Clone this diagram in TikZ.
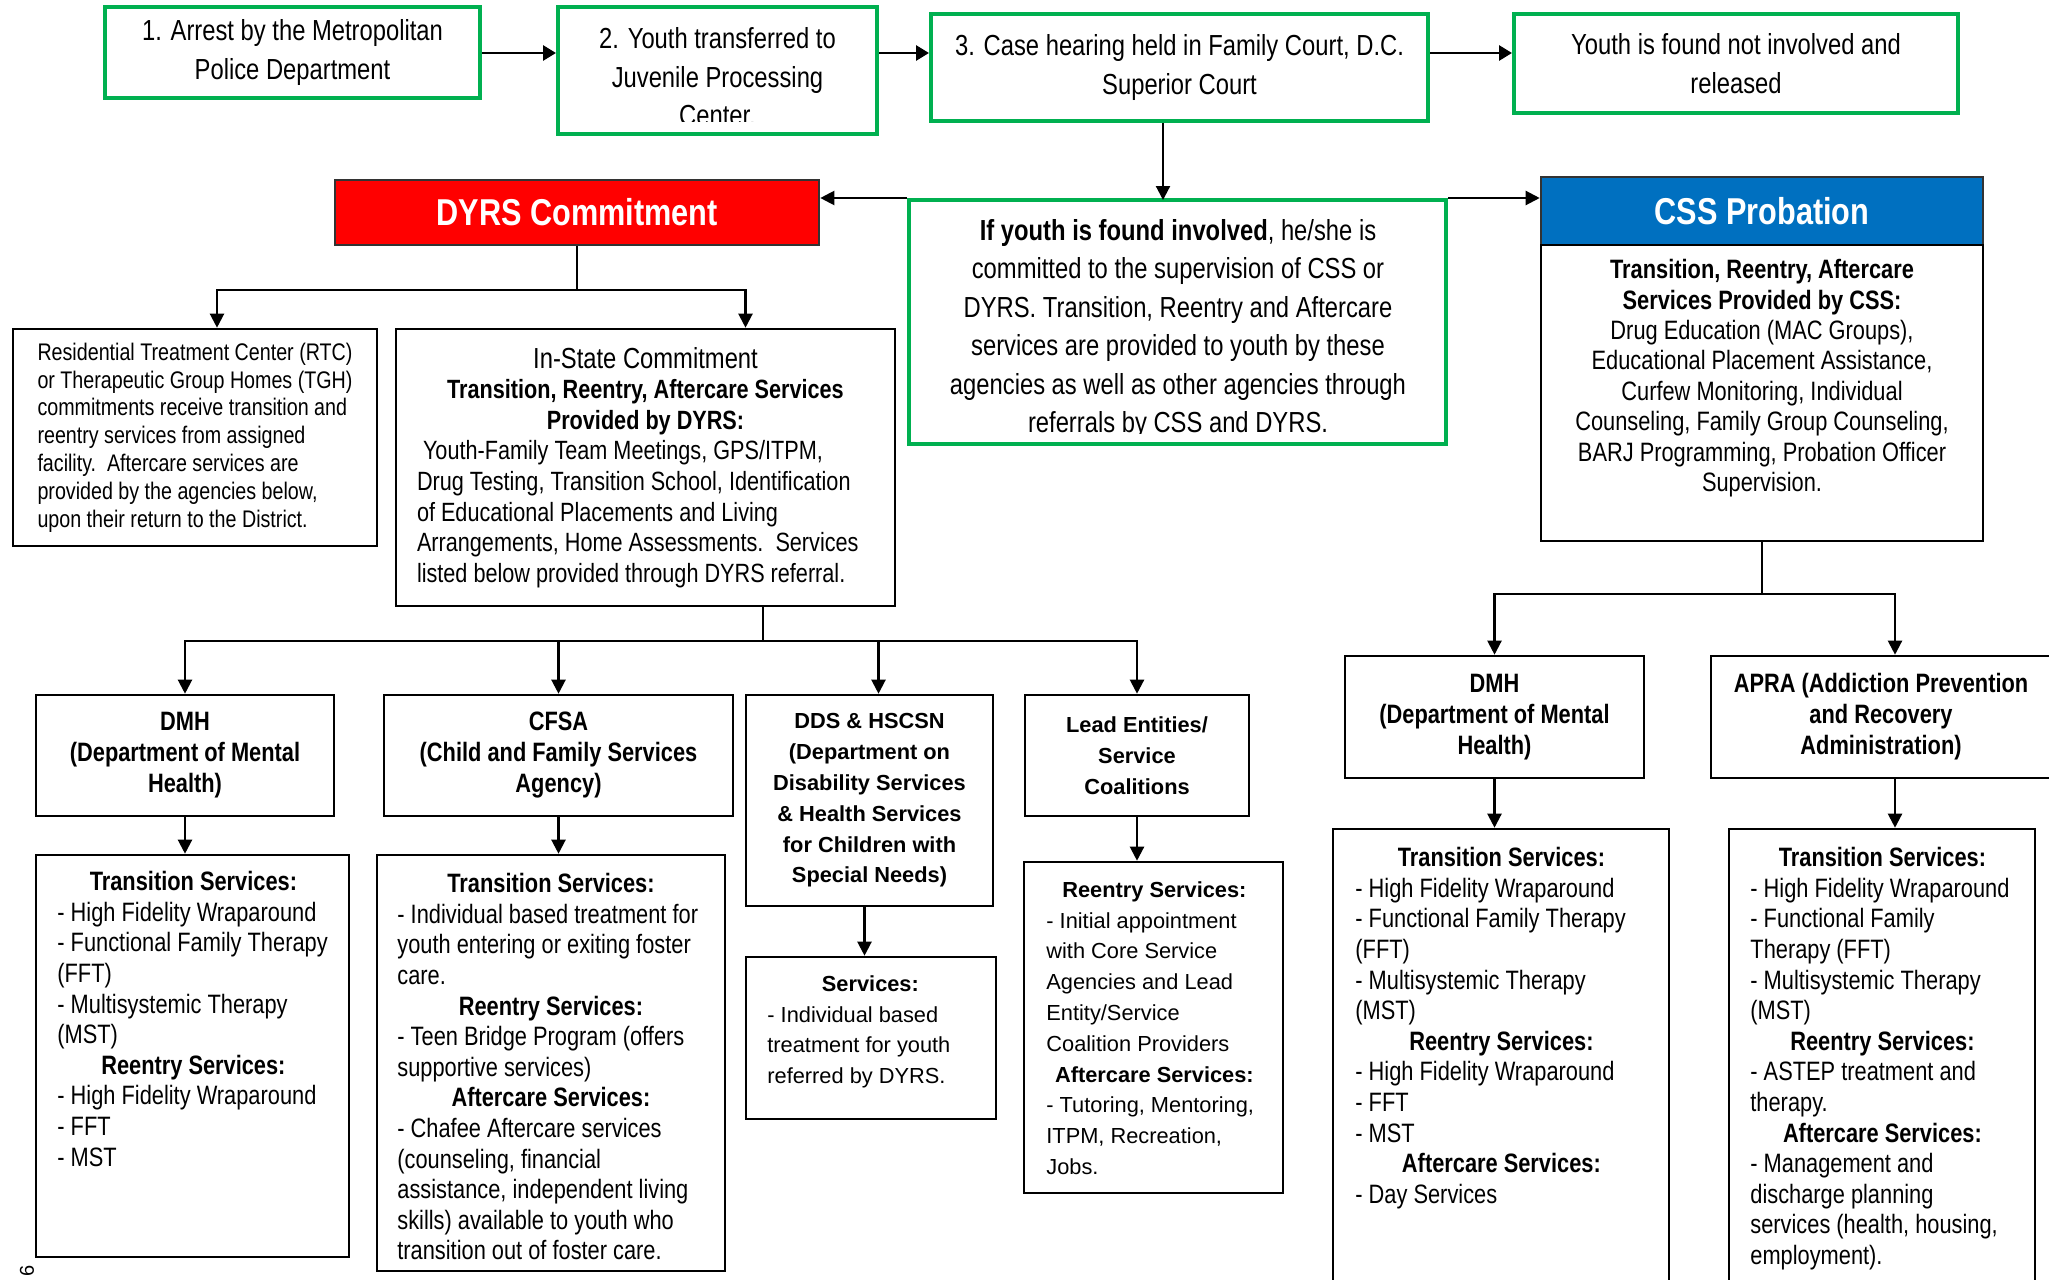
\documentclass[tikz,border=0pt]{standalone}
\usepackage{fontspec}
\setmainfont{Liberation Sans}
\newfontfamily\narrow[FakeStretch=0.82]{Liberation Sans}
\usetikzlibrary{arrows.meta,positioning}

\definecolor{boxgreen}{HTML}{00B050}
\definecolor{dyrsred}{HTML}{FF0000}
\definecolor{cssblue}{HTML}{0070C0}

\setlength{\parindent}{0pt}
\newcommand{\hd}[2]{\makebox[#1][c]{\bfseries #2}}

\tikzset{
    boxsize/.style 2 args={minimum width=#1*0.5pt, minimum height=#2*0.5pt},
    courtbox/.style={draw=boxgreen, line width=2pt, inner sep=0pt, align=center,
        font=\narrow\fontsize{14.5}{19.5}\selectfont},
    courttext/.style={inner sep=0pt, align=center, anchor=north},
    blackbox/.style={draw=black, line width=1.3pt, inner sep=0pt},
    headbox/.style={draw=black!80, line width=1.3pt, inner sep=0pt, text=white,
        font=\narrow\bfseries\fontsize{18.7}{22}\selectfont},
    agency/.style={blackbox, align=center, font=\narrow\bfseries\fontsize{13.3}{15.5}\selectfont},
    agencywide/.style={blackbox, align=center, font=\bfseries\fontsize{10.9}{15.4}\selectfont},
    svctext/.style={inner sep=0pt, align=left, anchor=north west,
        font=\narrow\fontsize{13.3}{15.3}\selectfont},
    svcwide/.style={inner sep=0pt, align=left, anchor=north west,
        font=\fontsize{10.9}{15.4}\selectfont},
    link/.style={line width=1.1pt},
    arr/.style={line width=1.1pt, -{Triangle[length=7pt,width=7pt]}},
    bigarr/.style={line width=1.4pt, -{Triangle[length=6.5pt,width=7.5pt]}},
}

\begin{document}
\begin{tikzpicture}[x=0.5pt, y=-0.5pt]
    \useasboundingbox (0,0) rectangle (2049,1279);

    % Court steps
    \node[courtbox, boxsize={375}{91}] (arrest) at (292.5,53) {1. Arrest by the Metropolitan\\Police Department};
    \node[courtbox, boxsize={319}{127}] (jpc) at (717.5,70.5) {};
    \begin{scope}
        \clip (560,9) rectangle (875,122);
        \node[courttext, font=\narrow\fontsize{14.5}{19.3}\selectfont] (jpctext) at (717.5,27) {2. Youth transferred to\\Juvenile Processing\\Center.};
    \end{scope}
    \node[courtbox, boxsize={497}{107}] (hearing) at (1179.5,67.5) {3. Case hearing held in Family Court, D.C.\\Superior Court};
    \node[courtbox, boxsize={444}{99}] (released) at (1736,63.5) {Youth is found not involved and\\released};

    \draw[bigarr] (arrest.east) -- (jpc.west |- arrest.east);
    \draw[bigarr] (jpc.east |- arrest.east) -- (hearing.west |- arrest.east);
    \draw[bigarr] (hearing.east |- arrest.east) -- (released.west |- arrest.east);

    % Finding
    \node[courtbox, boxsize={537}{244}] (involved) at (1177.5,322) {};
    \begin{scope}
        \clip (912,202) rectangle (1444,433);
        \node[courttext, font=\narrow\fontsize{14.5}{19.2}\selectfont] (involvedtext) at (1178,219) {\textbf{If youth is found involved}, he/she is\\committed to the supervision of CSS or\\DYRS. Transition, Reentry and Aftercare\\services are provided to youth by these\\agencies as well as other agencies through\\referrals by CSS and DYRS.};
    \end{scope}
    \coordinate (verdict) at (1163,200);
    \draw[arr] (hearing.south -| verdict) -- (verdict);

    % Agencies
    \node[headbox, fill=dyrsred, boxsize={484}{65}] (dyrs) at (577,212.5) {DYRS Commitment};
    \node[headbox, fill=cssblue, boxsize={442}{68}] (css) at (1762,211) {CSS Probation};
    \node[blackbox, boxsize={442}{296}] (cssbody) at (1762,393) {};
    \node[courttext, font=\narrow\fontsize{13.3}{15.2}\selectfont] (csstext) at (1762,259) {\textbf{Transition, Reentry, Aftercare}\\\textbf{Services Provided by CSS:}\\Drug Education (MAC Groups),\\Educational Placement Assistance,\\Curfew Monitoring, Individual\\Counseling, Family Group Counseling,\\BARJ Programming, Probation Officer\\Supervision.};

    \draw[arr] (involved.north west) -- (dyrs.east |- involved.north west);
    \draw[arr] (involved.north east) -- (css.west |- involved.north east);

    % DYRS branch
    \node[blackbox, boxsize={364}{217}, align=left, font=\narrow\fontsize{12}{13.9}\selectfont] (rtc) at (195,437.5) {Residential Treatment Center (RTC)\\or Therapeutic Group Homes (TGH)\\commitments receive transition and\\reentry services from assigned\\facility.\ \ Aftercare services are\\provided by the agencies below,\\upon their return to the District.};
    \node[blackbox, boxsize={499}{277}, align=left, font=\narrow\fontsize{13.2}{15.3}\selectfont] (instate) at (645.5,467.5) {\makebox[228.5pt][c]{\fontsize{14.5}{15.3}\selectfont In-State Commitment}\\\hd{228.5pt}{Transition, Reentry, Aftercare Services}\\\hd{228.5pt}{Provided by DYRS:}\\\hspace{3pt}Youth-Family Team Meetings, GPS/ITPM,\\Drug Testing, Transition School, Identification\\of Educational Placements and Living\\Arrangements, Home Assessments.\ \ Services\\listed below provided through DYRS referral.};

    \draw[link] (dyrs.south) -- ++(0,44) coordinate (dyrsfork);
    \draw[arr] (dyrsfork) -| ([xshift=11pt]rtc.north);
    \draw[arr] (dyrsfork) -| ([xshift=50pt]instate.north);

    % DYRS referral agencies
    \node[agency, boxsize={298}{121}] (dmhA) at (185,755.5) {DMH\\(Department of Mental\\Health)};
    \node[agency, boxsize={349}{121}] (cfsa) at (558.5,755.5) {CFSA\\(Child and Family Services\\Agency)};
    \node[agencywide, boxsize={247}{211}] (dds) at (869.5,800.5) {DDS \& HSCSN\\(Department on\\Disability Services\\\& Health Services\\for Children with\\Special Needs)};
    \node[agencywide, boxsize={224}{121}] (lead) at (1137,755.5) {Lead Entities/\\Service\\Coalitions};

    \draw[link] ([xshift=58.75pt]instate.south) -- ++(0,34) coordinate (instfork);
    \draw[arr] (instfork) -| (dmhA.north);
    \draw[arr] (instfork) -| (cfsa.north);
    \draw[arr] (instfork) -| ([xshift=4.5pt]dds.north);
    \draw[arr] (instfork) -| (lead.north);

    \node[blackbox, boxsize={313}{402}] (dmhAsrv) at (192.5,1056) {};
    \node[blackbox, boxsize={348}{416}] (cfsasrv) at (551,1063) {};
    \node[blackbox, boxsize={250}{162}] (ddssrv) at (871,1038) {};
    \node[blackbox, boxsize={259}{331}] (leadsrv) at (1153.5,1027.5) {};

    \node[svctext] (dmhAlist) at (57,871) {\hd{136pt}{Transition Services:}\\- High Fidelity Wraparound\\- Functional Family Therapy\\(FFT)\\- Multisystemic Therapy\\(MST)\\\hd{136pt}{Reentry Services:}\\- High Fidelity Wraparound\\- FFT\\- MST};
    \node[svctext] (cfsalist) at (397,873) {\hd{153.6pt}{Transition Services:}\\- Individual based treatment for\\youth entering or exiting foster\\care.\\\hd{153.6pt}{Reentry Services:}\\- Teen Bridge Program (offers\\supportive services)\\\hd{153.6pt}{Aftercare Services:}\\- Chafee Aftercare services\\(counseling, financial\\assistance, independent living\\skills) available to youth who\\transition out of foster care.};
    \node[svcwide] (ddslist) at (767,975) {\hd{103pt}{Services:}\\- Individual based\\treatment for youth\\referred by DYRS.};
    \node[svcwide] (leadlist) at (1046,881) {\hd{108pt}{Reentry Services:}\\- Initial appointment\\with Core Service\\Agencies and Lead\\Entity/Service\\Coalition Providers\\\hd{108pt}{Aftercare Services:}\\- Tutoring, Mentoring,\\ITPM, Recreation,\\Jobs.};

    \draw[arr] (dmhA.south) -- (dmhA.south |- dmhAsrv.north);
    \draw[arr] (cfsa.south) -- (cfsa.south |- cfsasrv.north);
    \draw[arr] ([xshift=-2.5pt]dds.south) -- ([xshift=-2.5pt]dds.south |- ddssrv.north);
    \draw[arr] (lead.south) -- (lead.south |- leadsrv.north);

    % CSS referral agencies
    \node[agency, boxsize={299}{122}] (dmhB) at (1494.5,717) {DMH\\(Department of Mental\\Health)};
    \node[agency, boxsize={340}{122}] (apra) at (1881,717) {APRA (Addiction Prevention\\and Recovery\\Administration)};

    \draw[link] (cssbody.south) -- ++(0,52) coordinate (cssfork);
    \draw[arr] (cssfork) -| (dmhB.north);
    \draw[arr] (cssfork) -| ([xshift=7pt]apra.north);

    \node[blackbox, boxsize={336}{471}] (dmhBsrv) at (1501,1064.5) {};
    \node[blackbox, boxsize={306}{471}] (aprasrv) at (1882,1064.5) {};

    \node[svctext] (dmhBlist) at (1355,847) {\hd{146pt}{Transition Services:}\\- High Fidelity Wraparound\\- Functional Family Therapy\\(FFT)\\- Multisystemic Therapy\\(MST)\\\hd{146pt}{Reentry Services:}\\- High Fidelity Wraparound\\- FFT\\- MST\\\hd{146pt}{Aftercare Services:}\\- Day Services};
    \node[svctext] (apralist) at (1750,847) {\hd{132pt}{Transition Services:}\\- High Fidelity Wraparound\\- Functional Family\\Therapy (FFT)\\- Multisystemic Therapy\\(MST)\\\hd{132pt}{Reentry Services:}\\- ASTEP treatment and\\therapy.\\\hd{132pt}{Aftercare Services:}\\- Management and\\discharge planning\\services (health, housing,\\employment).};

    \draw[arr] (dmhB.south) -- (dmhB.south |- dmhBsrv.north);
    \draw[arr] ([xshift=7pt]apra.south) -- ([xshift=7pt]apra.south |- aprasrv.north);

    % page number
    \node[rotate=90, inner sep=0pt, font=\fontsize{10}{12}\selectfont] (pagenum) at (27,1271) {6};
\end{tikzpicture}
\end{document}
